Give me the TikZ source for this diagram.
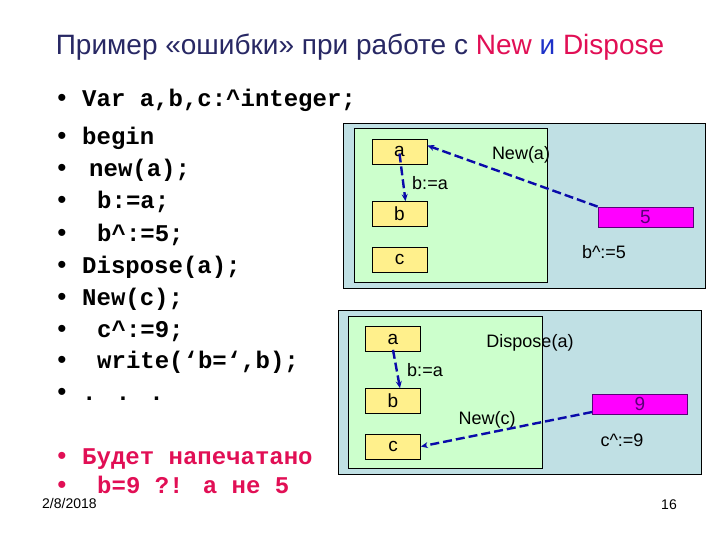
\documentclass[tikz,border=0pt]{standalone}
\usepackage{fontspec}
\setmainfont{Liberation Sans}
\newfontfamily\codefont{Liberation Mono}
\usepackage{tikz}
\usetikzlibrary{arrows.meta, positioning}

\definecolor{panelblue}{RGB}{192,224,228}
\definecolor{stackgreen}{RGB}{204,255,204}
\definecolor{cellyellow}{RGB}{255,240,140}
\definecolor{heapmagenta}{RGB}{255,0,255}
\definecolor{ptrblue}{RGB}{10,10,170}
\definecolor{titlenavy}{RGB}{40,40,100}
\definecolor{accentred}{RGB}{225,15,85}
\definecolor{titleblue}{RGB}{30,50,200}
\definecolor{valpurple}{RGB}{90,0,120}

\begin{document}
\begin{tikzpicture}[
    x=1pt, y=-1pt,
    title/.style={anchor=base, inner sep=0pt, text=titlenavy, font=\fontsize{28}{32}\selectfont},
    codeline/.style={anchor=base west, inner sep=0pt, font=\fontsize{24}{28}\codefont\bfseries},
    bulletmark/.style={anchor=base, inner sep=0pt, font=\fontsize{26}{28}\selectfont},
    panel/.style={draw=black, line width=0.9pt},
    cell/.style={rectangle, draw=black, fill=cellyellow, line width=0.7pt, inner sep=0pt,
                 minimum width=55pt, minimum height=25pt, font=\fontsize{19}{22}\selectfont},
    heapcell/.style={rectangle, draw=valpurple, fill=heapmagenta, line width=0.8pt, inner sep=0pt,
                 minimum width=95pt, minimum height=20pt, text=valpurple, font=\fontsize{19}{22}\selectfont},
    lbl/.style={inner sep=0pt, font=\fontsize{18}{20}\selectfont},
    ptr/.style={-{Stealth[length=7pt, width=6pt]}, draw=ptrblue, line width=2.4pt,
                dash pattern=on 9pt off 4pt},
    small/.style={inner sep=0pt, font=\fontsize{14}{16}\selectfont}
]
\useasboundingbox (0,0) rectangle (720,540);

% title
\node[title] (title) at (360,55) {Пример «ошибки» при работе с
  \textcolor{accentred}{New} \textcolor{titleblue}{и} \textcolor{accentred}{Dispose}};

% program text
\foreach \y in {107,145,177,209,241,273,305,337,368,400}
  \node[bulletmark] at (62,\y) {\textbullet};
\node[codeline] (lvar) at (82,107) {Var a,b,c:\textasciicircum integer;};
\node[codeline] (lbegin) at (82,145) {begin};
\node[codeline] (lnewa) at (89,177) {new(a);};
\node[codeline] (lassign) at (97,209) {b:=a;};
\node[codeline] (lderefb) at (97,241) {b\textasciicircum:=5;};
\node[codeline] (ldispose) at (82,273) {Dispose(a);};
\node[codeline] (lnewc) at (82,305) {New(c);};
\node[codeline] (lderefc) at (97,337) {c\textasciicircum:=9;};
\node[codeline] (lwrite) at (97,368) {write(‘b=‘,b);};
\node[codeline] (ldots) at (82,400) {. . .};

% result
\node[bulletmark, text=accentred] at (62,464) {\textbullet};
\node[bulletmark, text=accentred] at (62,493) {\textbullet};
\node[codeline, text=accentred] (lresult) at (82,464) {Будет напечатано};
\node[codeline, text=accentred] (lvalue) at (97,493) {b=9 ?! а не 5};

% memory after New(a)
\draw[panel, fill=panelblue] (343,123) rectangle (705,288);
\draw[panel, fill=stackgreen] (354,128) rectangle (547,282);
\node[cell] (a1) at (399.5,151.5) {a};
\node[cell] (b1) at (399.5,214) {b};
\node[cell] (c1) at (399.5,259.5) {c};
\node[heapcell] (heap5) at (645.5,217) {5};
\node[lbl] (newa) at (521,155) {New(a)};
\node[lbl] (assign1) at (430,183) {b:=a};
\node[lbl] (deref5) at (604,252) {b\textasciicircum:=5};
\draw[ptr] ([yshift=-2pt]a1.center) -- ([xshift=6pt]b1.north);
\draw[ptr] (heap5.north west) -- ([yshift=6pt]a1.east);

% memory after Dispose(a), New(c)
\draw[panel, fill=panelblue] (338,310) rectangle (701,474);
\draw[panel, fill=stackgreen] (348,316) rectangle (542,468);
\node[cell] (a2) at (393,339) {a};
\node[cell] (b2) at (393,401) {b};
\node[cell] (c2) at (393,446.5) {c};
\node[heapcell] (heap9) at (640,404) {9};
\node[lbl] (disposea) at (530,343) {Dispose(a)};
\node[lbl] (assign2) at (425,370) {b:=a};
\node[lbl] (newc) at (487,420) {New(c)};
\node[lbl] (deref9) at (622,440) {c\textasciicircum:=9};
\draw[ptr] ([yshift=2pt]a2.south) -- ([xshift=7pt]b2.north);
\draw[ptr] ([yshift=-8pt]heap9.west) -- (c2.east);

% footer
\node[small, anchor=base west] (date) at (42,508) {2/8/2018};
\node[small, anchor=base east] (page) at (677,509) {16};
\end{tikzpicture}
\end{document}
